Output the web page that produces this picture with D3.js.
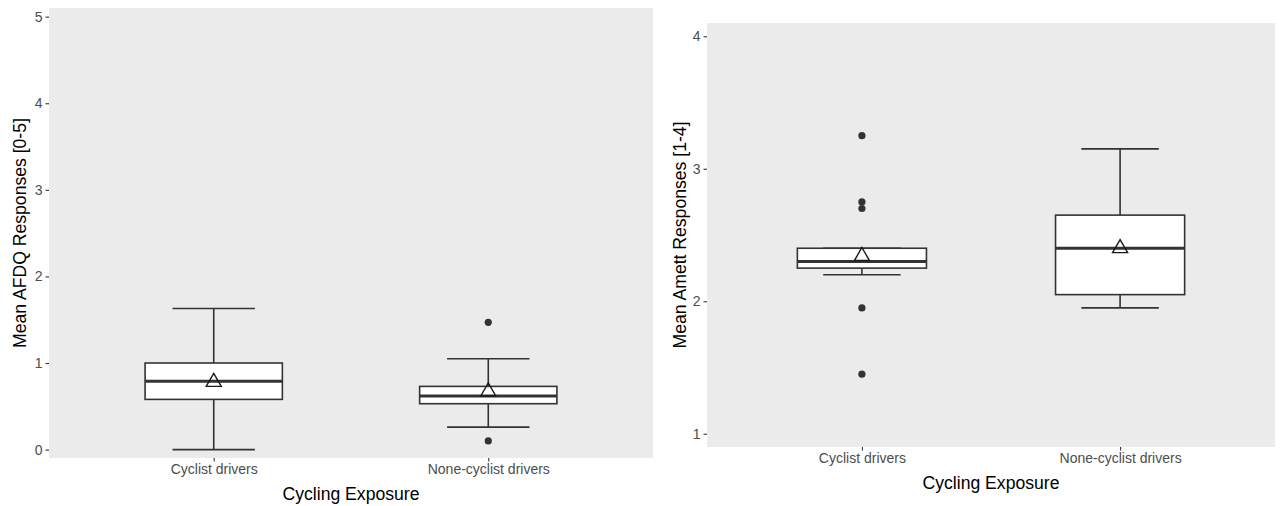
<!DOCTYPE html>
<html>
<head>
<meta charset="utf-8">
<script src="https://cdn.jsdelivr.net/npm/d3@7"></script>
<style>
  html, body { margin: 0; padding: 0; background: #ffffff; }
  svg { display: block; font-family: "Liberation Sans", Arial, Helvetica, sans-serif; }
</style>
</head>
<body>
<svg id="chart" width="1280" height="506"></svg>
<script>
// ---- Data ----
const categories = ["Cyclist drivers", "None-cyclist drivers"];

// Left panel: Mean AFDQ responses [0-5]
const afdqMin      = [0.00, 0.26];
const afdqQ1       = [0.58, 0.53];
const afdqMedian   = [0.79, 0.62];
const afdqQ3       = [1.00, 0.73];
const afdqMax      = [1.63, 1.05];
const afdqMean     = [0.78, 0.67];
const afdqOutliers = [[], [1.47, 0.10]];
const afdqTicks    = [0, 1, 2, 3, 4, 5];

// Right panel: Mean Amett responses [1-4]
const amettMin      = [2.20, 1.95];
const amettQ1       = [2.25, 2.05];
const amettMedian   = [2.30, 2.40];
const amettQ3       = [2.40, 2.65];
const amettMax      = [2.40, 3.15];
const amettMean     = [2.34, 2.40];
const amettOutliers = [[3.25, 2.75, 2.70, 1.95, 1.45], []];
const amettTicks    = [1, 2, 3, 4];

const xTitle = "Cycling Exposure";

const svg = d3.select("#chart");

function drawPanel(cfg) {
  const g = svg.append("g");
  const { left, right, top, bottom } = cfg.box;

  const x = d3.scalePoint().domain(categories).range([left, right]).padding(0.6);
  const y = d3.scaleLinear().domain(cfg.domain).range([bottom, top]);
  const step = x.step();

  g.append("rect")
    .attr("x", left).attr("y", top)
    .attr("width", right - left).attr("height", bottom - top)
    .attr("fill", "#EBEBEB");

  const rows = categories.map((c, i) => ({
    cat: c, min: cfg.min[i], q1: cfg.q1[i], med: cfg.median[i],
    q3: cfg.q3[i], max: cfg.max[i], mean: cfg.mean[i], out: cfg.outliers[i]
  }));

  const lineColor = "#333333";
  const lw = 1.6;
  const bw = step * 0.5, cw = step * 0.3;

  rows.forEach(r => {
    const cx = x(r.cat);
    // whisker vertical lines
    g.append("line").attr("x1", cx).attr("x2", cx)
      .attr("y1", y(r.max)).attr("y2", y(r.q3))
      .attr("stroke", lineColor).attr("stroke-width", lw);
    g.append("line").attr("x1", cx).attr("x2", cx)
      .attr("y1", y(r.q1)).attr("y2", y(r.min))
      .attr("stroke", lineColor).attr("stroke-width", lw);
    // caps
    [r.max, r.min].forEach(v => {
      g.append("line").attr("x1", cx - cw / 2).attr("x2", cx + cw / 2)
        .attr("y1", y(v)).attr("y2", y(v))
        .attr("stroke", lineColor).attr("stroke-width", lw);
    });
    // box
    g.append("rect")
      .attr("x", cx - bw / 2).attr("width", bw)
      .attr("y", y(r.q3)).attr("height", y(r.q1) - y(r.q3))
      .attr("fill", "#ffffff").attr("stroke", lineColor).attr("stroke-width", lw);
    // median
    g.append("line").attr("x1", cx - bw / 2).attr("x2", cx + bw / 2)
      .attr("y1", y(r.med)).attr("y2", y(r.med))
      .attr("stroke", lineColor).attr("stroke-width", 3);
    // outliers
    r.out.forEach(v => {
      g.append("circle").attr("cx", cx).attr("cy", y(v)).attr("r", 3.6)
        .attr("fill", lineColor);
    });
    // mean triangle (hollow, centred on mean)
    const R = 8.7;
    const my = y(r.mean);
    const pts = [
      [cx, my - R],
      [cx + R * Math.sqrt(3) / 2, my + R / 2],
      [cx - R * Math.sqrt(3) / 2, my + R / 2]
    ];
    g.append("path").attr("d", d3.line()(pts) + "Z")
      .attr("fill", "none").attr("stroke", "#1a1a1a").attr("stroke-width", 1.4);
  });

  // y axis
  const yAxis = d3.axisLeft(y).tickValues(cfg.ticks).tickSize(3.5).tickPadding(3)
    .tickFormat(d3.format("d"));
  const ya = g.append("g").attr("transform", `translate(${left},0)`).call(yAxis);
  ya.select(".domain").remove();
  ya.selectAll(".tick line").attr("stroke", "#333333").attr("stroke-width", 1.1);
  ya.selectAll(".tick text").attr("fill", "#4D4D4D").style("font-size", "14px")
    .style("font-family", '"Liberation Sans", Arial, sans-serif');

  // x axis
  const xAxis = d3.axisBottom(x).tickSize(3.5).tickPadding(3);
  const xa = g.append("g").attr("transform", `translate(0,${bottom})`).call(xAxis);
  xa.select(".domain").remove();
  xa.selectAll(".tick line").attr("stroke", "#333333").attr("stroke-width", 1.1);
  xa.selectAll(".tick text").attr("fill", "#4D4D4D").style("font-size", "14px")
    .style("font-family", '"Liberation Sans", Arial, sans-serif');

  // titles
  g.append("text")
    .attr("x", (left + right) / 2).attr("y", bottom + 42)
    .attr("text-anchor", "middle").attr("fill", "#000")
    .style("font-size", "17.6px").text(xTitle);
  g.append("text")
    .attr("transform", `translate(${cfg.yTitleX},${(top + bottom) / 2}) rotate(-90)`)
    .attr("text-anchor", "middle").attr("fill", "#000")
    .style("font-size", "17.6px").text(cfg.yTitle);
}

drawPanel({
  box: { left: 49, right: 653, top: 8, bottom: 458 },
  domain: [-0.097, 5.1],
  ticks: afdqTicks,
  min: afdqMin, q1: afdqQ1, median: afdqMedian, q3: afdqQ3, max: afdqMax,
  mean: afdqMean, outliers: afdqOutliers,
  yTitle: "Mean AFDQ Responses [0-5]", yTitleX: 26
});

drawPanel({
  box: { left: 707, right: 1275, top: 23, bottom: 447 },
  domain: [0.9, 4.1],
  ticks: amettTicks,
  min: amettMin, q1: amettQ1, median: amettMedian, q3: amettQ3, max: amettMax,
  mean: amettMean, outliers: amettOutliers,
  yTitle: "Mean Amett Responses [1-4]", yTitleX: 686
});
</script>
</body>
</html>
